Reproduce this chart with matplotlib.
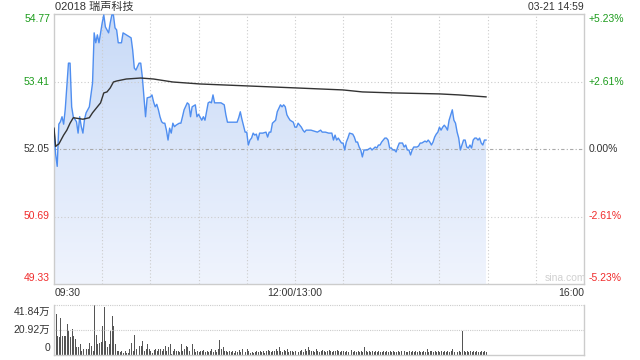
import numpy as np
import matplotlib
matplotlib.use("Agg")
import matplotlib.pyplot as plt
from matplotlib.patches import Polygon

# ---------------- data ----------------
title = "02018 瑞声科技"
stamp = "03-21 14:59"
prev_close = 52.05
price_ticks = [54.77, 53.41, 52.05, 50.69, 49.33]
pct_labels = ["+5.23%", "+2.61%", "0.00%", "-2.61%", "-5.23%"]
time_ticks = [0, 150, 330]
time_labels = ["09:30", "12:00/13:00", "16:00"]
vol_ticks = [41.84, 20.92, 0]
vol_labels = ["41.84万", "20.92万", "0"]

# minute index since 09:30 (lunch break removed) and price
price_min = [0, 1, 2, 3, 4, 5, 6, 7, 8, 9, 10, 11, 12, 13, 14, 15, 16, 17, 18, 19,
             20, 22, 24, 25, 26, 27, 28, 29, 30, 31, 32, 34, 35, 36, 37, 38, 39, 40, 42, 43,
             45, 47, 48, 49, 50, 51, 53, 54, 55, 56, 57, 58, 60, 61, 62, 63, 64, 65, 66, 67,
             68, 69, 70, 71, 72, 73, 74, 75, 76, 78, 79, 80, 81, 83, 84, 85, 86, 88, 89, 90,
             92, 93, 94, 95, 96, 97, 98, 99, 100, 101, 102, 104, 106, 107, 108, 111, 114, 115, 116, 117,
             119, 120, 121, 122, 123, 124, 125, 126, 127, 128, 130, 132, 133, 134, 135, 136, 138, 139, 141, 142,
             143, 144, 145, 146, 147, 149, 150, 151, 152, 154, 155, 156, 157, 160, 164, 166, 167, 169, 171, 173,
             174, 175, 176, 177, 179, 180, 181, 182, 183, 184, 186, 187, 188, 189, 190, 191, 192, 193, 195, 197,
             198, 200, 201, 202, 203, 204, 205, 206, 207, 208, 209, 210, 211, 212, 213, 214, 215, 217, 218, 219,
             220, 221, 222, 223, 224, 226, 227, 228, 229, 230, 231, 232, 233, 234, 235, 236, 237, 238, 239, 240,
             241, 242, 243, 244, 245, 246, 248, 249, 250, 251, 252, 253, 255, 256, 257, 258, 259, 260, 261, 262,
             263, 264, 265, 266, 267, 268, 269]
price_val = [52.45, 51.95, 51.70, 52.55, 52.60, 52.70, 52.55, 52.85, 53.30, 53.78, 53.78, 52.90, 52.70, 52.65, 52.60, 52.37, 52.70, 52.50, 52.37, 52.65,
             52.78, 52.90, 53.38, 54.39, 54.19, 54.35, 54.19, 54.39, 54.59, 54.75, 54.51, 54.39, 54.59, 54.75, 54.75, 54.49, 54.45, 54.19, 54.19, 54.39,
             54.35, 54.31, 54.29, 54.04, 53.68, 53.64, 53.78, 53.78, 53.50, 53.10, 52.70, 53.08, 53.10, 53.14, 53.00, 52.90, 52.95, 52.84, 52.70, 52.60,
             52.57, 52.57, 52.43, 52.23, 52.47, 52.37, 52.57, 52.50, 52.53, 52.57, 52.57, 52.70, 52.84, 52.98, 52.95, 52.70, 52.90, 52.94, 52.70, 52.75,
             52.63, 52.70, 52.63, 52.80, 52.98, 53.00, 52.98, 53.14, 52.98, 52.98, 52.98, 52.98, 52.94, 52.74, 52.59, 52.59, 52.59, 52.68, 52.80, 52.65,
             52.39, 52.39, 52.13, 52.23, 52.27, 52.37, 52.33, 52.35, 52.23, 52.37, 52.37, 52.39, 52.29, 52.39, 52.39, 52.57, 52.63, 52.80, 52.94, 52.90,
             52.94, 52.90, 52.74, 52.68, 52.63, 52.59, 52.49, 52.49, 52.57, 52.49, 52.43, 52.39, 52.43, 52.43, 52.39, 52.43, 52.39, 52.39, 52.37, 52.37,
             52.23, 52.33, 52.23, 52.27, 52.17, 52.17, 52.03, 52.19, 52.27, 52.37, 52.35, 52.29, 52.19, 52.19, 52.09, 52.03, 51.89, 52.03, 52.03, 52.07,
             52.03, 52.09, 52.07, 52.13, 52.13, 52.19, 52.23, 52.27, 52.27, 52.23, 52.07, 52.07, 52.03, 52.03, 51.99, 52.09, 52.17, 52.17, 52.09, 52.13,
             52.03, 52.03, 51.93, 52.03, 52.09, 52.09, 52.11, 52.17, 52.17, 52.19, 52.21, 52.19, 52.23, 52.19, 52.13, 52.19, 52.29, 52.35, 52.39, 52.49,
             52.43, 52.49, 52.53, 52.49, 52.43, 52.63, 52.84, 52.63, 52.57, 52.39, 52.27, 52.03, 52.23, 52.23, 52.09, 52.07, 52.13, 52.07, 52.23, 52.27,
             52.27, 52.23, 52.27, 52.17, 52.13, 52.23, 52.23]

avg_min = [0, 1, 2, 3, 6, 8, 10, 12, 18, 22, 24, 27, 29, 31, 33, 35, 37, 39, 45, 54,
           62, 74, 91, 121, 151, 180, 192, 211, 240, 252, 269]
avg_val = [52.47, 52.10, 52.13, 52.15, 52.33, 52.43, 52.57, 52.68, 52.65, 52.68, 52.78, 52.90, 52.98, 53.18, 53.20, 53.28, 53.40, 53.42, 53.46, 53.48,
           53.46, 53.40, 53.36, 53.32, 53.28, 53.24, 53.20, 53.18, 53.16, 53.14, 53.10]

# volume per minute (万 shares), minute 0 = 09:30
volume = [38.2, 34.1, 16.1, 14.7, 30.7, 16.1, 16.1, 16.1, 25.8, 20.2,
          15.2, 21.6, 15.5, 13.3, 6.4, 6.4, 9.1, 3.6, 5.0, 4.2,
          5.0, 5.0, 9.7, 7.8, 3.0, 41.84, 16.9, 9.1, 9.7, 10.5,
          24.4, 40.2, 11.9, 6.4, 9.1, 20.2, 32.7, 24.4, 9.1, 3.6,
          3.6, 2.2, 3.6, 1.4, 3.0, 1.4, 1.4, 5.0, 9.7, 3.6,
          16.9, 5.0, 5.0, 7.8, 7.8, 11.9, 3.0, 5.0, 9.1, 5.0,
          3.6, 2.0, 4.2, 5.0, 3.6, 5.0, 5.0, 3.6, 5.0, 7.8,
          3.6, 6.4, 9.1, 0.8, 3.6, 5.0, 3.6, 3.6, 2.5, 9.1,
          3.6, 5.0, 7.8, 6.4, 3.6, 7.8, 9.1, 5.0, 2.2, 3.0,
          2.2, 3.6, 3.0, 4.2, 2.2, 3.6, 2.2, 3.6, 5.0, 2.2,
          4.2, 2.2, 5.0, 12.5, 5.0, 6.4, 3.6, 3.0, 2.2, 3.0,
          2.2, 3.6, 1.4, 3.6, 2.2, 4.2, 2.2, 5.0, 3.6, 2.2,
          5.0, 3.0, 1.4, 2.2, 1.4, 2.2, 3.0, 2.2, 3.6, 2.2,
          3.0, 1.4, 3.6, 4.2, 3.0, 2.2, 3.6, 3.0, 5.0, 3.6,
          6.4, 3.0, 2.2, 4.2, 3.6, 5.0, 2.2, 3.6, 3.0, 2.2,
          3.6, 5.0, 2.2, 3.0, 4.2, 2.2, 5.0, 3.6, 6.4, 4.2,
          3.0, 3.6, 2.2, 5.0, 3.6, 2.2, 3.0, 4.2, 3.6, 2.2,
          3.0, 4.2, 3.6, 2.2, 3.0, 3.6, 4.2, 3.0, 2.2, 3.0,
          3.6, 2.2, 3.0, 2.2, 3.6, 4.2, 2.2, 3.0, 2.2, 3.6,
          2.2, 3.0, 2.2, 7.0, 3.0, 2.2, 3.6, 2.2, 3.0, 2.2,
          3.6, 2.2, 3.0, 2.2, 2.2, 3.6, 2.2, 3.0, 2.2, 3.6,
          2.2, 3.0, 2.2, 2.2, 3.0, 2.2, 3.6, 2.2, 3.0, 2.2,
          2.2, 3.6, 2.2, 3.0, 2.2, 3.6, 2.2, 3.0, 2.2, 2.2,
          3.6, 2.2, 5.0, 2.2, 3.0, 3.6, 2.2, 3.0, 2.2, 3.6,
          2.2, 3.0, 2.2, 3.6, 2.2, 3.0, 2.2, 3.6, 5.0, 2.2,
          3.0, 2.2, 3.6, 2.2, 20.0, 3.0, 2.2, 3.6, 2.2, 3.0,
          2.2, 3.6, 2.2, 3.0, 2.2, 2.2, 3.0, 2.2, 3.0, 2.2]

# ---------------- style ----------------
GREEN = "#1c9c1c"
RED = "#f02b2b"
DARK = "#333333"
GRID = "#cccccc"
FRAME = "#cccccc"
FONT = ["Liberation Sans", "Noto Sans CJK SC", "DejaVu Sans"]
plt.rcParams["font.family"] = FONT

W, H = 640, 360
fig = plt.figure(figsize=(W / 100, H / 100), dpi=100)


def fx(x):
    return x / W


def fy(y):
    return 1 - y / H


L, R, T, B = 54, 584, 14, 284
ax = fig.add_axes([fx(L), fy(B), (R - L) / W, (B - T) / H])
ax.set_xlim(0, 330)
ax.set_ylim(price_ticks[-1], price_ticks[0])
ax.set_xticks([])
ax.set_yticks([])
for s in ax.spines.values():
    s.set_color(FRAME)
    s.set_linewidth(1.0)

# grids (drawn over the fill)
for m in range(30, 330, 30):
    ax.axvline(m, color=GRID, lw=0.8, ls=(0, (1, 2)), zorder=3)
for p in [price_ticks[1], price_ticks[3]]:
    ax.axhline(p, color=GRID, lw=0.8, ls=(0, (1, 2)), zorder=3)
ax.axhline(prev_close, color="#aaaaaa", lw=0.8, ls=(0, (3, 2, 1, 2)), zorder=3)

# gradient fill under the price line
pts = list(zip(price_min, price_val)) + [(price_min[-1], price_ticks[-1]), (price_min[0], price_ticks[-1])]
poly = Polygon(pts, closed=True, facecolor="none", edgecolor="none", transform=ax.transData)
ax.add_patch(poly)
top = np.array([200, 218, 247]) / 255.0
bot = np.array([240, 244, 253]) / 255.0
t = np.linspace(0, 1, 256)[:, None]
grad = (bot[None, :] * (1 - t) + top[None, :] * t)[:, None, :]
im = ax.imshow(grad, extent=[0, 330, price_ticks[-1], price_ticks[0]], origin="lower",
               aspect="auto", zorder=2, interpolation="bilinear")
im.set_clip_path(poly)

ax.plot(price_min, price_val, color="#4f8ef0", lw=1.0, zorder=4)
ax.plot(avg_min, avg_val, color=DARK, lw=1.0, zorder=5)

# watermark
fig.text(fx(565), fy(278), "sina.com", color="#d0d0d0", fontsize=7.5, ha="center", va="center")

# price labels
label_y = [19, 82, 149, 216, 278]
label_c = [GREEN, GREEN, DARK, RED, RED]
for yy, p, c, pl in zip(label_y, price_ticks, label_c, pct_labels):
    fig.text(fx(50), fy(yy), f"{p:.2f}", color=c, fontsize=7.5, ha="right", va="center")
    fig.text(fx(589), fy(yy), pl, color=c, fontsize=7.5, ha="left", va="center")

# title / stamp
fig.text(fx(55), fy(7), title, color=DARK, fontsize=8, ha="left", va="center")
fig.text(fx(584), fy(7), stamp, color=DARK, fontsize=7.5, ha="right", va="center")

# time labels
fig.text(fx(55), fy(293), time_labels[0], color=DARK, fontsize=7.5, ha="left", va="center")
fig.text(fx(L + (R - L) * time_ticks[1] / 330), fy(293), time_labels[1], color=DARK, fontsize=7.5,
         ha="center", va="center")
fig.text(fx(584), fy(293), time_labels[2], color=DARK, fontsize=7.5, ha="right", va="center")

# volume panel
VT, VB = 305, 355
ax2 = fig.add_axes([fx(L), fy(VB), (R - L) / W, (VB - VT) / H])
ax2.set_xlim(0, 330)
ax2.set_ylim(0, vol_ticks[0])
ax2.set_xticks([])
ax2.set_yticks([])
for k, s in ax2.spines.items():
    s.set_color(FRAME)
    s.set_linewidth(1.0)
ax2.spines["top"].set_visible(False)
ax2.axhline(vol_ticks[0], color=GRID, lw=0.8, ls=(0, (1, 1)), clip_on=False)
ax2.axhline(vol_ticks[1], color=GRID, lw=0.8, ls=(0, (1, 1)))
ax2.bar(np.arange(len(volume)), volume, width=0.6, color="#555555", linewidth=0, align="edge")

vl_y = [312, 330, 348]
for yy, lab in zip(vl_y, vol_labels):
    fig.text(fx(50), fy(yy), lab, color=DARK, fontsize=7.5, ha="right", va="center")

fig.savefig("out.png", dpi=100)
